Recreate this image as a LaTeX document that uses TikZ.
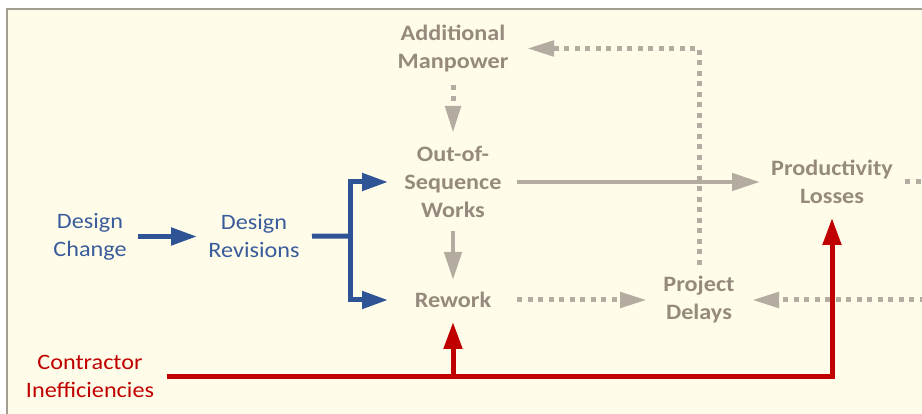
\documentclass[tikz,border=0pt]{standalone}
\usepackage{fontspec}
\setmainfont{Carlito}[FakeStretch=1.1]
\usetikzlibrary{arrows.meta}
\definecolor{bgcream}{HTML}{FFFDE9}
\definecolor{framegray}{HTML}{A39D92}
\definecolor{txtgray}{HTML}{958A7D}
\definecolor{arrgray}{HTML}{B4ACA1}
\definecolor{txtblue}{HTML}{3A5C9C}
\definecolor{arrblue}{HTML}{2F5496}
\definecolor{darkred}{HTML}{C00000}
\tikzset{
  lbl/.style={align=center, inner sep=0pt, font=\fontsize{22}{28}\selectfont},
  graylbl/.style={lbl, text=txtgray, font=\fontsize{22}{28}\selectfont\bfseries},
  bluelbl/.style={lbl, text=txtblue},
  redlbl/.style={lbl, text=darkred},
  bline/.style={draw=arrblue, line width=5pt},
  barrow/.style={bline, -{Triangle[length=26pt,width=17pt]}},
  rline/.style={draw=darkred, line width=5pt},
  rarrow/.style={rline, -{Triangle[length=27pt,width=18pt]}},
  gsolid/.style={draw=arrgray, line width=4.5pt, -{Triangle[length=28pt,width=17pt]}},
  gdotted/.style={draw=arrgray, line width=5pt, dash pattern=on 5pt off 5.5pt},
  gdotarrow/.style={gdotted, -{Triangle[length=27pt,width=15pt]}},
}
\begin{document}
\begin{tikzpicture}[x=1pt, y=-1pt]
\useasboundingbox (0,0) rectangle (922,414);
\fill[white] (0,0) rectangle (922,414);
\fill[bgcream] (7,9) rectangle (930,420);
\draw[framegray, line width=1.5pt] (7,420) -- (7,9) -- (930,9);

\node[bluelbl] (dc) at (90,236.5) {Design\\Change};
\node[bluelbl] (dr) at (254,236.5) {Design\\Revisions};
\node[graylbl] (am) at (453,48.5) {Additional\\Manpower};
\node[graylbl] (osw) at (453,182) {Out-of-\\Sequence\\Works};
\node[graylbl] (rw) at (453,300) {Rework};
\node[graylbl] (pl) at (832,182) {Productivity\\Losses};
\node[graylbl] (pd) at (699,300) {Project\\Delays};
\node[redlbl] (ci) at (90,376.5) {Contractor\\Inefficiencies};

\coordinate (fk) at (350,236);
\coordinate (rj) at (453,377);
\coordinate (rin) at (935,300);
\coordinate (rout) at (935,182);

% red connectors
\draw[rarrow, shorten <=77pt, shorten >=36pt] (ci.center) -| (pl.center);
\draw[rarrow, shorten >=22pt] (rj) -- (rw.center);

% blue connectors
\draw[barrow, shorten <=48pt, shorten >=57pt] (dc.center) -- (dr.center);
\draw[bline, shorten <=58pt] (dr.center) -- (fk);
\draw[barrow, shorten >=65pt] (fk) |- (osw.center);
\draw[barrow, shorten >=65pt] (fk) |- (rw.center);

% gray connectors
\draw[gsolid, shorten <=64pt, shorten >=72pt] (osw.center) -- (pl.center);
\draw[gsolid, shorten <=49pt, shorten >=20pt] (osw.center) -- (rw.center);
\draw[gdotarrow, shorten <=37pt, shorten >=49pt] (am.center) -- (osw.center);
\draw[gdotarrow, shorten <=64pt, shorten >=52pt] (rw.center) -- (pd.center);
\draw[gdotarrow, shorten <=35pt, shorten >=74pt] (pd.center) |- (am.center);
\draw[gdotarrow, shorten >=53pt] (rin) -- (pd.center);
\draw[gdotted, shorten <=73pt] (pl.center) -- (rout);
\end{tikzpicture}
\end{document}
